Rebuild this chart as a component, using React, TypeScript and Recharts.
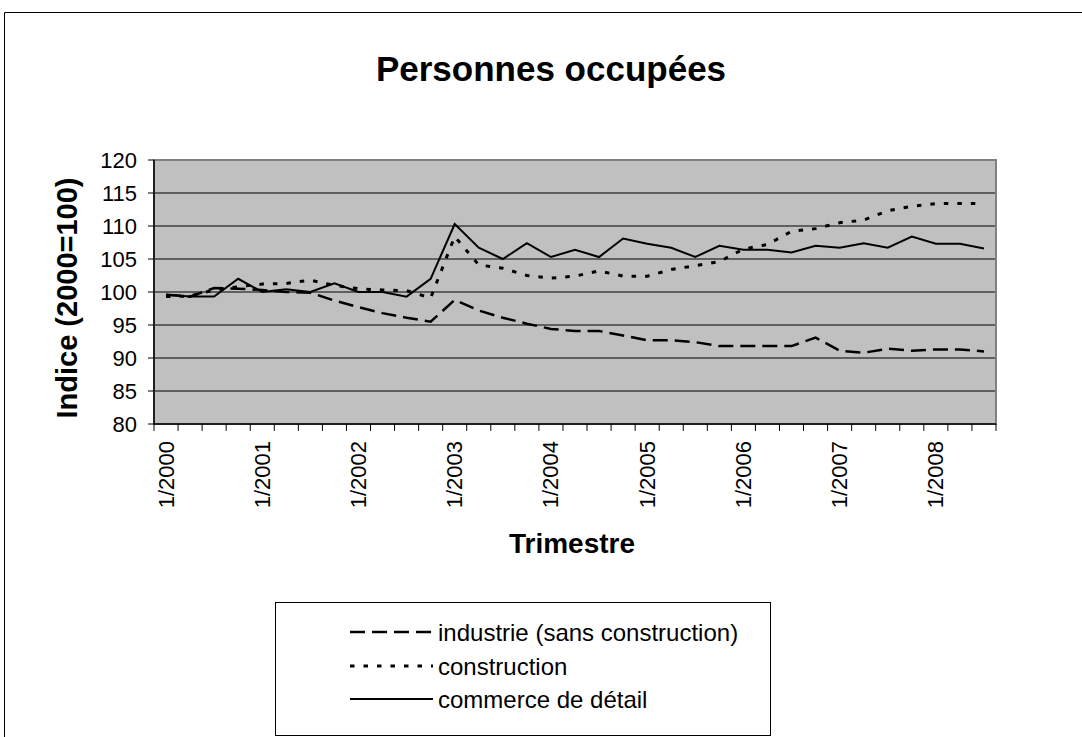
import { CartesianGrid, Line, LineChart, ReferenceArea, ReferenceLine, XAxis, YAxis } from 'recharts'

const quarters = [
  '1/2000', '2/2000', '3/2000', '4/2000',
  '1/2001', '2/2001', '3/2001', '4/2001',
  '1/2002', '2/2002', '3/2002', '4/2002',
  '1/2003', '2/2003', '3/2003', '4/2003',
  '1/2004', '2/2004', '3/2004', '4/2004',
  '1/2005', '2/2005', '3/2005', '4/2005',
  '1/2006', '2/2006', '3/2006', '4/2006',
  '1/2007', '2/2007', '3/2007', '4/2007',
  '1/2008', '2/2008', '3/2008',
]

const industrie = [
  99.6, 99.3, 100.6, 100.5, 100.3, 100.0, 99.9, 98.7, 97.7, 96.8, 96.1, 95.5,
  98.8, 97.2, 96.1, 95.2, 94.4, 94.1, 94.1, 93.4, 92.7, 92.7, 92.4, 91.8,
  91.8, 91.8, 91.8, 93.1, 91.1, 90.8, 91.4, 91.1, 91.3, 91.3, 91.0,
]

const construction = [
  99.3, 99.4, 100.3, 100.8, 101.2, 101.3, 101.8, 101.0, 100.5, 100.3, 100.2, 99.1,
  108.4, 104.1, 103.6, 102.5, 102.1, 102.4, 103.2, 102.4, 102.4, 103.4, 104.0, 104.6,
  106.5, 107.2, 109.2, 109.6, 110.5, 110.9, 112.3, 113.0, 113.4, 113.4, 113.4,
]

const commerce = [
  99.6, 99.3, 99.3, 102.0, 100.0, 100.4, 100.0, 101.3, 100.0, 100.0, 99.3, 102.0,
  110.3, 106.7, 105.0, 107.4, 105.3, 106.4, 105.3, 108.1, 107.3, 106.7, 105.3, 107.0,
  106.4, 106.4, 106.0, 107.0, 106.7, 107.4, 106.7, 108.4, 107.3, 107.3, 106.6,
]

const yTicks = [80, 85, 90, 95, 100, 105, 110, 115, 120]
// category boundaries (Excel draws the x ticks between quarters)
const edgeTicks = quarters.map((_, i) => i).concat(quarters.length)

const data = quarters.map((q, i) => ({
  q,
  industrie: industrie[i],
  construction: construction[i],
  commerce: commerce[i],
}))

const FONT = '"Liberation Sans", Arial, sans-serif'

const QuarterTick = (props: any) => {
  const { x, y, payload } = props
  return (
    <text
      x={x}
      y={y}
      transform={`rotate(-90, ${x}, ${y})`}
      textAnchor="end"
      dominantBaseline="central"
      fontSize={22}
      fontFamily={FONT}
      fill="#000"
    >
      {payload.value}
    </text>
  )
}

const legendRows = [
  { label: 'industrie (sans construction)', dash: '15 7', width: 2.5, y: 632 },
  { label: 'construction', dash: '4.5 9', width: 3, y: 666 },
  { label: 'commerce de détail', dash: undefined, width: 2, y: 699 },
]

export default function App() {
  return (
    <div
      style={{
        position: 'absolute',
        left: 0,
        top: 0,
        width: 1082,
        height: 737,
        overflow: 'hidden',
        background: '#fff',
      }}
    >
      <LineChart
        width={1082}
        height={737}
        data={data}
        margin={{ top: 160, right: 86, bottom: 0, left: 0 }}
        style={{ position: 'absolute', left: 0, top: 0 }}
      >
        <CartesianGrid vertical={false} stroke="#000" strokeWidth={1} fill="#C0C0C0" fillOpacity={1} />
        <XAxis
          xAxisId="edge"
          type="number"
          dataKey={() => 0}
          domain={[0, quarters.length]}
          allowDataOverflow
          hide
        />
        <XAxis
          xAxisId="cat"
          dataKey="q"
          interval={3}
          padding={{ left: 12, right: 12 }}
          tick={<QuarterTick />}
          tickLine={false}
          tickSize={6}
          tickMargin={11}
          axisLine={{ stroke: '#000', strokeWidth: 1.5 }}
          height={313}
        />
        <YAxis
          domain={[80, 120]}
          ticks={yTicks}
          width={154}
          tickSize={6}
          tickMargin={11}
          tick={{ fontSize: 22, fontFamily: FONT, fill: '#000' }}
          tickLine={{ stroke: '#000', strokeWidth: 1 }}
          axisLine={{ stroke: '#000', strokeWidth: 1.5 }}
        />
        <ReferenceArea
          xAxisId="edge"
          x1={0}
          x2={quarters.length}
          y1={80}
          y2={120}
          fill="none"
          stroke="#808080"
          strokeWidth={2}
        />
        {edgeTicks.map((t) => (
          <ReferenceLine
            key={t}
            xAxisId="edge"
            segment={[
              { x: t, y: 80 },
              { x: t, y: 78.95 },
            ]}
            ifOverflow="visible"
            stroke="#000"
            strokeWidth={1}
          />
        ))}
        <Line
          xAxisId="cat"
          dataKey="industrie"
          type="linear"
          stroke="#000"
          strokeWidth={2.5}
          strokeDasharray="15 7"
          dot={false}
          activeDot={false}
          isAnimationActive={false}
        />
        <Line
          xAxisId="cat"
          dataKey="construction"
          type="linear"
          stroke="#000"
          strokeWidth={3}
          strokeDasharray="4.5 9"
          dot={false}
          activeDot={false}
          isAnimationActive={false}
        />
        <Line
          xAxisId="cat"
          dataKey="commerce"
          type="linear"
          stroke="#000"
          strokeWidth={2}
          dot={false}
          activeDot={false}
          isAnimationActive={false}
        />
      </LineChart>
      <svg
        width={1082}
        height={737}
        style={{ position: 'absolute', left: 0, top: 0, pointerEvents: 'none' }}
        fontFamily={FONT}
      >
        <line x1={4.5} y1={12.5} x2={1082} y2={12.5} stroke="#000" strokeWidth={1} />
        <line x1={4.5} y1={12.5} x2={4.5} y2={737} stroke="#000" strokeWidth={1} />
        <text x={551} y={81} textAnchor="middle" fontSize={35} fontWeight="bold" fill="#000">
          Personnes occupées
        </text>
        <text x={572} y={553} textAnchor="middle" fontSize={28} fontWeight="bold" fill="#000">
          Trimestre
        </text>
        <text
          transform="translate(77, 298) rotate(-90)"
          textAnchor="middle"
          fontSize={29}
          fontWeight="bold"
          fill="#000"
        >
          Indice (2000=100)
        </text>
        <rect x={275.5} y={602.5} width={495} height={133} fill="#fff" stroke="#000" strokeWidth={1} />
        {legendRows.map((r) => (
          <g key={r.label}>
            <line
              x1={350}
              x2={433}
              y1={r.y}
              y2={r.y}
              stroke="#000"
              strokeWidth={r.width}
              strokeDasharray={r.dash}
            />
            <text x={438} y={r.y} dominantBaseline="central" fontSize={24} fill="#000">
              {r.label}
            </text>
          </g>
        ))}
      </svg>
    </div>
  )
}
